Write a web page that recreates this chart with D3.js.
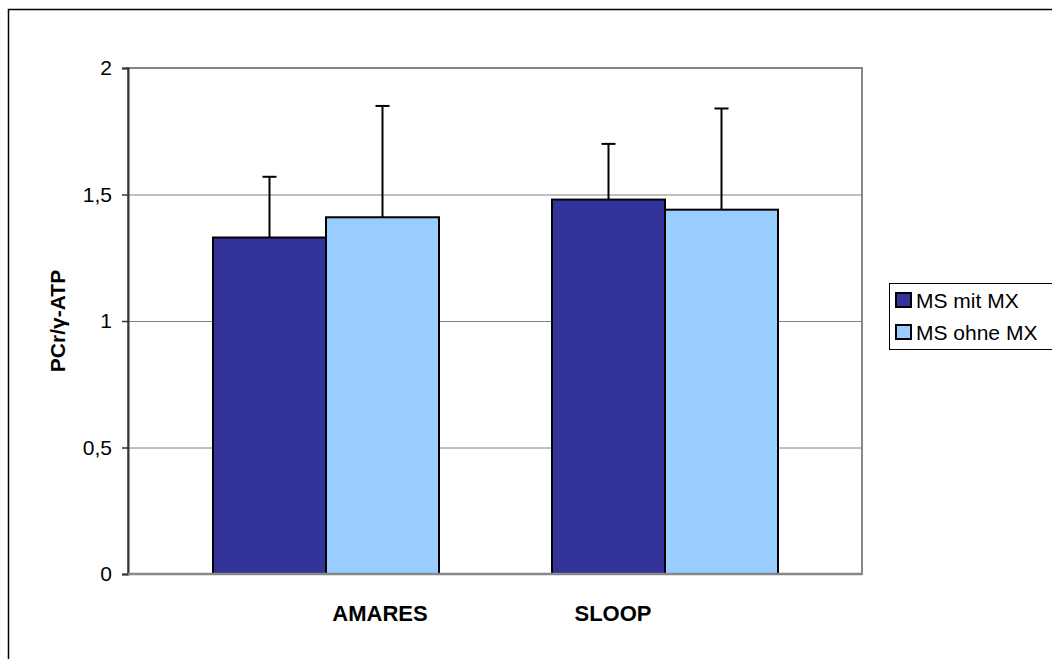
<!DOCTYPE html>
<html><head><meta charset="utf-8">
<script src="https://cdn.jsdelivr.net/npm/d3@7"></script>
<style>body{margin:0;background:#fff}svg{display:block}text{font-family:"Liberation Sans",Arial,sans-serif}</style>
</head><body>
<svg id="c" width="1052" height="659"></svg>
<script>
const categories = ["AMARES", "SLOOP"];
const seriesNames = ["MS mit MX", "MS ohne MX"];
const seriesColors = ["#333399", "#99CCFF"];
const valuesMit = [1.33, 1.48];
const valuesOhne = [1.41, 1.44];
const errMit = [0.24, 0.22];
const errOhne = [0.44, 0.40];
const yTicks = [0, 0.5, 1, 1.5, 2];
const yTickLabels = ["0", "0,5", "1", "1,5", "2"];

const svg = d3.select("#c");
svg.append("rect").attr("x", 8.5).attr("y", 9.5).attr("width", 1100).attr("height", 700)
  .attr("fill", "none").attr("stroke", "#000").attr("stroke-width", 1.5);

const pLeft = 128, pRight = 862, pTop = 68, pBottom = 574;
const y = d3.scaleLinear().domain([0, 2]).range([pBottom, pTop]);
const x0 = d3.scaleBand().domain(categories).range([156.5, 834.5]).paddingInner(0).paddingOuter(0);
const x1 = d3.scaleBand().domain(seriesNames).range([x0.bandwidth() / 6, x0.bandwidth() * 5 / 6]);
const xLabel = d3.scalePoint().domain(categories).range([380, 613]);

// plot area border
svg.append("rect").attr("x", pLeft).attr("y", pTop).attr("width", pRight - pLeft).attr("height", pBottom - pTop)
  .attr("fill", "none").attr("stroke", "#888").attr("stroke-width", 2);
// gridlines
svg.append("g").selectAll("line").data(yTicks.filter(d => d > 0)).join("line")
  .attr("x1", pLeft).attr("x2", pRight).attr("y1", d => y(d) + 0.5).attr("y2", d => y(d) + 0.5)
  .attr("stroke", "#808080").attr("stroke-width", 1);

const data = categories.map((c, i) => ({
  cat: c,
  vals: [
    {s: seriesNames[0], v: valuesMit[i], e: errMit[i], color: seriesColors[0]},
    {s: seriesNames[1], v: valuesOhne[i], e: errOhne[i], color: seriesColors[1]}
  ]
}));

const g = svg.append("g").selectAll("g").data(data).join("g")
  .attr("transform", d => `translate(${x0(d.cat)},0)`);
g.selectAll("line.err").data(d => d.vals).join("line").attr("class", "err")
  .attr("x1", d => x1(d.s) + x1.bandwidth() / 2).attr("x2", d => x1(d.s) + x1.bandwidth() / 2)
  .attr("y1", d => y(d.v)).attr("y2", d => y(d.v + d.e))
  .attr("stroke", "#000").attr("stroke-width", 2);
g.selectAll("line.cap").data(d => d.vals).join("line").attr("class", "cap")
  .attr("x1", d => x1(d.s) + x1.bandwidth() / 2 - 7).attr("x2", d => x1(d.s) + x1.bandwidth() / 2 + 7)
  .attr("y1", d => y(d.v + d.e)).attr("y2", d => y(d.v + d.e))
  .attr("stroke", "#000").attr("stroke-width", 2);
g.selectAll("rect").data(d => d.vals).join("rect")
  .attr("x", d => x1(d.s)).attr("width", x1.bandwidth())
  .attr("y", d => y(d.v)).attr("height", d => y(0) - y(d.v))
  .attr("fill", d => d.color).attr("stroke", "#000").attr("stroke-width", 2);

// y axis
const yAxis = d3.axisLeft(y).tickValues(yTicks).tickSize(6).tickPadding(10)
  .tickFormat((d, i) => yTickLabels[i]);
const ya = svg.append("g").attr("transform", `translate(${pLeft},0)`).call(yAxis);
ya.select(".domain").attr("stroke", "#333").attr("stroke-width", 2);
ya.selectAll(".tick line").attr("stroke", "#333").attr("stroke-width", 1.5);
ya.selectAll(".tick text").attr("font-size", 21).attr("fill", "#000")
  .style("font-family", '"Liberation Sans",Arial,sans-serif');
svg.append("line").attr("x1", pLeft).attr("x2", pRight).attr("y1", pBottom).attr("y2", pBottom)
  .attr("stroke", "#888").attr("stroke-width", 2.5);

// category labels
svg.append("g").selectAll("text").data(categories).join("text")
  .attr("x", d => xLabel(d)).attr("y", 621).attr("text-anchor", "middle")
  .attr("font-size", 22).attr("font-weight", "bold").text(d => d);

// y title
svg.append("text").attr("transform", "translate(65,321) rotate(-90)").attr("text-anchor", "middle")
  .attr("font-size", 21).attr("font-weight", "bold").text("PCr/γ-ATP");

// legend
const lg = svg.append("g");
lg.append("rect").attr("x", 889.5).attr("y", 283.5).attr("width", 170).attr("height", 66)
  .attr("fill", "#fff").attr("stroke", "#000").attr("stroke-width", 1);
const items = lg.selectAll("g").data(seriesNames).join("g")
  .attr("transform", (d, i) => `translate(896,${293 + i * 32})`);
items.append("rect").attr("width", 15).attr("height", 14)
  .attr("fill", (d, i) => seriesColors[i]).attr("stroke", "#000").attr("stroke-width", 2);
items.append("text").attr("x", 20).attr("y", 7).attr("dy", "0.36em")
  .attr("font-size", 21).text(d => d);
</script>
</body></html>
